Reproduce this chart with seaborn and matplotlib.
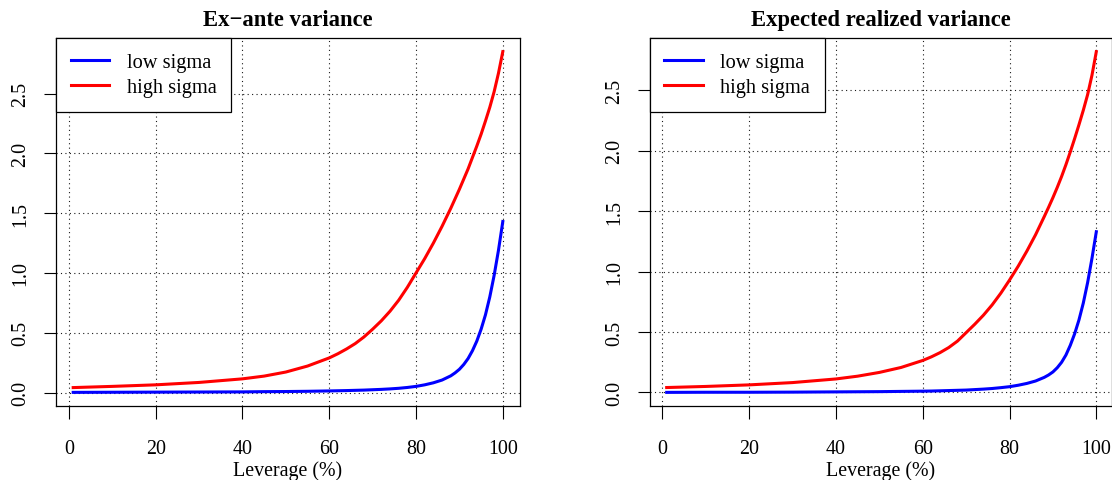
import matplotlib
matplotlib.use("Agg")
import matplotlib.pyplot as plt
import numpy as np
import pandas as pd
import seaborn as sns

# Leverage grid (%) shared by all curves
leverage = [1, 10, 20, 30, 40, 45, 50, 55, 60, 62, 64, 66, 68, 70, 72, 74, 76,
            78, 80, 82, 84, 86, 88, 89, 90, 91, 92, 93, 94, 95, 96, 97, 98, 99,
            100]

# Ex-ante variance
exante_low = [0.002, 0.003, 0.004, 0.005, 0.006, 0.008, 0.009, 0.011, 0.014,
              0.0155, 0.017, 0.019, 0.021, 0.024, 0.027, 0.031, 0.036, 0.043,
              0.052, 0.065, 0.082, 0.105, 0.140, 0.165, 0.195, 0.235, 0.285,
              0.350, 0.430, 0.530, 0.650, 0.800, 0.980, 1.190, 1.430]
exante_high = [0.042, 0.052, 0.065, 0.085, 0.115, 0.138, 0.172, 0.222, 0.290,
               0.325, 0.365, 0.410, 0.465, 0.530, 0.600, 0.680, 0.772, 0.880,
               1.000, 1.120, 1.250, 1.390, 1.540, 1.620, 1.700, 1.785, 1.870,
               1.965, 2.060, 2.160, 2.270, 2.385, 2.515, 2.670, 2.850]

# Expected realized variance
realized_low = [0.001, 0.002, 0.002, 0.003, 0.005, 0.006, 0.007, 0.009, 0.011,
                0.012, 0.014, 0.016, 0.018, 0.020, 0.024, 0.028, 0.033, 0.040,
                0.048, 0.060, 0.075, 0.095, 0.125, 0.145, 0.170, 0.205, 0.250,
                0.310, 0.390, 0.485, 0.600, 0.740, 0.910, 1.110, 1.330]
realized_high = [0.041, 0.050, 0.063, 0.082, 0.112, 0.135, 0.166, 0.207, 0.265,
                 0.295, 0.330, 0.372, 0.425, 0.495, 0.565, 0.640, 0.725, 0.822,
                 0.930, 1.045, 1.170, 1.305, 1.455, 1.532, 1.612, 1.697, 1.787,
                 1.885, 1.990, 2.100, 2.215, 2.335, 2.465, 2.625, 2.820]

series_names = ["low sigma", "high sigma"]
titles = ["Ex\u2212ante variance", "Expected realized variance"]
x_ticks = [0, 20, 40, 60, 80, 100]
y_ticks = [0.0, 0.5, 1.0, 1.5, 2.0, 2.5]
x_label = "Leverage (%)"

plt.rcParams["font.family"] = ["Liberation Serif", "DejaVu Serif"]
plt.rcParams["axes.linewidth"] = 0.9
plt.rcParams["axes.edgecolor"] = "black"

W, H = 1112, 481
fig = plt.figure(figsize=(W / 100, H / 100), dpi=100)

# panel boxes in pixels: (left, right), shared top/bottom
box_top, box_bottom = 39, 407
panels = [(56, 520), (649.5, 1111.5)]
px_per_unit = 464 / (1.08 * 99)


def long_frame(low, high):
    return pd.DataFrame({
        "Leverage": leverage * 2,
        "Variance": list(low) + list(high),
        "Series": [series_names[0]] * len(low) + [series_names[1]] * len(high),
    })


frames = [long_frame(exante_low, exante_high),
          long_frame(realized_low, realized_high)]

for (pl, pr), df, title in zip(panels, frames, titles):
    ax = fig.add_axes([pl / W, (H - box_bottom) / H, (pr - pl) / W,
                       (box_bottom - box_top) / H])
    sns.lineplot(data=df, x="Leverage", y="Variance", hue="Series",
                 hue_order=series_names,
                 palette={"low sigma": "#0000ff", "high sigma": "#ff0000"},
                 linewidth=2.2, ax=ax, zorder=3)
    for line in ax.get_lines():
        line.set_solid_joinstyle("round")

    # R-style 4% axis extension
    xmin, xmax = min(leverage), max(leverage)
    x0 = xmin - 0.04 * (xmax - xmin)
    ax.set_xlim(x0, x0 + (pr - pl) / px_per_unit)
    ymin, ymax = df["Variance"].min(), df["Variance"].max()
    ypad = 0.04 * (ymax - ymin)
    ax.set_ylim(ymin - ypad, ymax + ypad)

    ax.set_xticks(x_ticks)
    ax.set_xticklabels([str(t) for t in x_ticks])
    ax.set_yticks(y_ticks)
    ax.set_yticklabels([f"{t:.1f}" for t in y_ticks], rotation=90, va="center")
    ax.tick_params(axis="x", direction="out", length=9, width=0.8,
                   labelsize=14.4, pad=14.5, colors="black")
    ax.tick_params(axis="y", direction="out", length=9, width=0.8,
                   labelsize=14.4, pad=9.5, colors="black")

    ax.grid(True, color="0.1", linestyle=(0, (1, 3)), linewidth=0.8, zorder=1)
    ax.set_axisbelow(True)

    ax.set_title(title, fontsize=16.3, fontweight="bold", pad=9.4)
    ax.set_xlabel(x_label, fontsize=14.4, labelpad=2)
    ax.set_ylabel("")

    handles, labels = ax.get_legend_handles_labels()
    leg = ax.legend(handles, labels, loc="upper left", borderaxespad=0,
                    fontsize=14.7, handlelength=1.9, handletextpad=0.85,
                    borderpad=0.72, labelspacing=0.3, fancybox=False,
                    framealpha=1, edgecolor="black")
    leg.get_frame().set_linewidth(0.9)
    leg.set_zorder(5)
    for line in leg.get_lines():
        line.set_linewidth(2.2)

fig.savefig("out.png", dpi=100)
